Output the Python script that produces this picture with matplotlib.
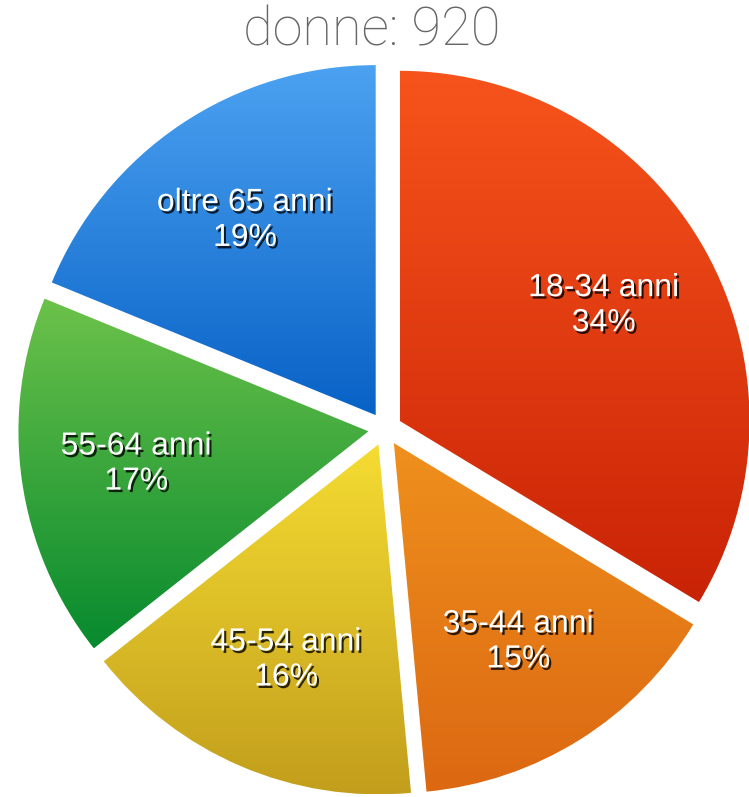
from matplotlib import pyplot as plt
from matplotlib.colors import LinearSegmentedColormap
import matplotlib.patheffects as pe
import numpy as np

# data
labels = ['18-34 anni', '35-44 anni', '45-54 anni', '55-64 anni', 'oltre 65 anni']
values = [34, 15, 16, 17, 19]
title = 'donne: 920'

# gradient colours per slice (top, bottom)
top_colors = ['#f7541c', '#ef901d', '#f5dc32', '#6cc24a', '#4ca2f1']
bottom_colors = ['#c92306', '#dc6812', '#c29e1c', '#078a2e', '#0862c6']

W, H = 749, 797
figure = plt.figure(figsize=(W / 100, H / 100), dpi=100)
axes = figure.add_axes([0, 0, 1, 1])

texts_lbl = [f'{l}\n{v}%' for l, v in zip(labels, values)]
# explode is in data units (pixels here)
wedges, texts = axes.pie(values, explode=[16.7] * len(values), startangle=90,
                         counterclock=False, radius=350, center=(385, H - 429),
                         labels=texts_lbl, labeldistance=0.67, frame=True)

shadow = [pe.SimplePatchShadow(offset=(1.5, -1.8), shadow_rgbFace='black', alpha=0.8),
          pe.Normal()]
for t in texts:
    t.set_horizontalalignment('center')
    t.set_verticalalignment('center')
    t.set_multialignment('center')
    t.set_fontfamily('Liberation Sans')
    t.set_fontsize(23)
    t.set_color('white')
    t.set_linespacing(1.22)
    t.set_path_effects(shadow)
    t.set_zorder(5)

grad = np.linspace(0, 1, 256).reshape(-1, 1)
for w, c0, c1 in zip(wedges, top_colors, bottom_colors):
    w.set_facecolor('none')
    w.set_edgecolor('none')
    ext = w.get_path().get_extents(w.get_patch_transform())
    cmap = LinearSegmentedColormap.from_list('g', [c1, c0])
    im = axes.imshow(grad, origin='lower', cmap=cmap, aspect='auto',
                     extent=[ext.x0, ext.x1, ext.y0, ext.y1], zorder=1)
    im.set_clip_path(w)

axes.set_xlim(0, W)
axes.set_ylim(0, H)
axes.set_aspect('equal')
axes.axis('off')

figure.text(372 / W, 1 - 31 / H, title, ha='center', va='center',
            fontsize=39, color='#666666', family='Roboto', weight='light')

figure.savefig('out.png', dpi=100)
